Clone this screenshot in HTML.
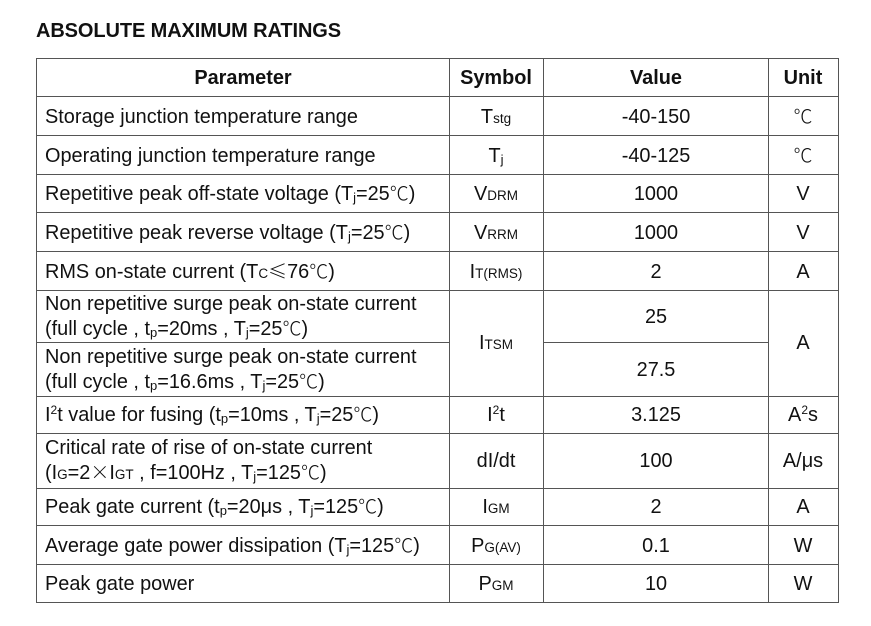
<!DOCTYPE html><html><head><style>
body{margin:0;width:871px;height:626px;background:#fff;position:relative;font-family:"Liberation Sans",Arial,sans-serif;color:#111;overflow:hidden}
.t{position:absolute;left:36px;top:20px;font-weight:bold;font-size:20px;letter-spacing:-0.1px}
.h{position:absolute;background:#555;height:1px}
.v{position:absolute;background:#555;width:1px}
.c{position:absolute;font-size:19.9px;white-space:nowrap;line-height:25px}
.m{text-align:center;transform:translateX(-50%)}
sub{font-size:13px;vertical-align:-2px;line-height:0}
.s{font-size:13.5px}
sup{font-size:12px;vertical-align:7px;line-height:0}
.d{font-family:"Noto Sans CJK SC",sans-serif;font-weight:300;font-size:19px;line-height:0;vertical-align:0}
b{font-weight:bold}
</style></head><body>
<div class="t">ABSOLUTE MAXIMUM RATINGS</div>
<div class="h" style="left:36px;width:803px;top:58px"></div>
<div class="h" style="left:36px;width:803px;top:96px"></div>
<div class="h" style="left:36px;width:803px;top:135px"></div>
<div class="h" style="left:36px;width:803px;top:174px"></div>
<div class="h" style="left:36px;width:803px;top:212px"></div>
<div class="h" style="left:36px;width:803px;top:251px"></div>
<div class="h" style="left:36px;width:803px;top:290px"></div>
<div class="h" style="left:36px;width:413px;top:342px"></div>
<div class="h" style="left:543px;width:225px;top:342px"></div>
<div class="h" style="left:36px;width:803px;top:396px"></div>
<div class="h" style="left:36px;width:803px;top:433px"></div>
<div class="h" style="left:36px;width:803px;top:488px"></div>
<div class="h" style="left:36px;width:803px;top:525px"></div>
<div class="h" style="left:36px;width:803px;top:564px"></div>
<div class="h" style="left:36px;width:803px;top:602px"></div>
<div class="v" style="left:36px;top:58px;height:545px"></div>
<div class="v" style="left:449px;top:58px;height:545px"></div>
<div class="v" style="left:543px;top:58px;height:545px"></div>
<div class="v" style="left:768px;top:58px;height:545px"></div>
<div class="v" style="left:838px;top:58px;height:545px"></div>

<div class="c m" style="left:243px;top:66px"><b>Parameter</b></div>
<div class="c m" style="left:496px;top:66px"><b>Symbol</b></div>
<div class="c m" style="left:656px;top:66px"><b>Value</b></div>
<div class="c m" style="left:803px;top:66px"><b>Unit</b></div>

<div class="c" style="left:45px;top:105px">Storage junction temperature range</div>
<div class="c m" style="left:496px;top:105px">T<span class="s">stg</span></div>
<div class="c m" style="left:656px;top:105px">-40-150</div>
<div class="c m" style="left:803px;top:105px"><span class="d">℃</span></div>

<div class="c" style="left:45px;top:144px">Operating junction temperature range</div>
<div class="c m" style="left:496px;top:144px">T<sub>j</sub></div>
<div class="c m" style="left:656px;top:144px">-40-125</div>
<div class="c m" style="left:803px;top:144px"><span class="d">℃</span></div>

<div class="c" style="left:45px;top:182px">Repetitive peak off-state voltage (T<sub>j</sub>=25<span class="d">℃</span>)</div>
<div class="c m" style="left:496px;top:182px">V<span class="s">DRM</span></div>
<div class="c m" style="left:656px;top:182px">1000</div>
<div class="c m" style="left:803px;top:182px">V</div>

<div class="c" style="left:45px;top:221px">Repetitive peak reverse voltage (T<sub>j</sub>=25<span class="d">℃</span>)</div>
<div class="c m" style="left:496px;top:221px">V<span class="s">RRM</span></div>
<div class="c m" style="left:656px;top:221px">1000</div>
<div class="c m" style="left:803px;top:221px">V</div>

<div class="c" style="left:45px;top:260px">RMS on-state current (T<span class="s">C</span><span class="d">≤</span>76<span class="d">℃</span>)</div>
<div class="c m" style="left:496px;top:260px">I<span class="s">T(RMS)</span></div>
<div class="c m" style="left:656px;top:260px">2</div>
<div class="c m" style="left:803px;top:260px">A</div>

<div class="c" style="left:45px;top:292px">Non repetitive surge peak on-state current<br>(full cycle , t<sub>p</sub>=20ms , T<sub>j</sub>=25<span class="d">℃</span>)</div>
<div class="c" style="left:45px;top:345px">Non repetitive surge peak on-state current<br>(full cycle , t<sub>p</sub>=16.6ms , T<sub>j</sub>=25<span class="d">℃</span>)</div>
<div class="c m" style="left:496px;top:331px">I<span class="s">TSM</span></div>
<div class="c m" style="left:656px;top:305px">25</div>
<div class="c m" style="left:656px;top:358px">27.5</div>
<div class="c m" style="left:803px;top:331px">A</div>

<div class="c" style="left:45px;top:403px">I<sup>2</sup>t value for fusing (t<sub>p</sub>=10ms , T<sub>j</sub>=25<span class="d">℃</span>)</div>
<div class="c m" style="left:496px;top:403px">I<sup>2</sup>t</div>
<div class="c m" style="left:656px;top:403px">3.125</div>
<div class="c m" style="left:803px;top:403px">A<sup>2</sup>s</div>

<div class="c" style="left:45px;top:436px">Critical rate of rise of on-state current<br>(I<span class="s">G</span>=2<span class="d">×</span>I<span class="s">GT</span> , f=100Hz , T<sub>j</sub>=125<span class="d">℃</span>)</div>
<div class="c m" style="left:496px;top:449px">dI/dt</div>
<div class="c m" style="left:656px;top:449px">100</div>
<div class="c m" style="left:803px;top:449px">A/μs</div>

<div class="c" style="left:45px;top:495px">Peak gate current (t<sub>p</sub>=20μs , T<sub>j</sub>=125<span class="d">℃</span>)</div>
<div class="c m" style="left:496px;top:495px">I<span class="s">GM</span></div>
<div class="c m" style="left:656px;top:495px">2</div>
<div class="c m" style="left:803px;top:495px">A</div>

<div class="c" style="left:45px;top:534px">Average gate power dissipation (T<sub>j</sub>=125<span class="d">℃</span>)</div>
<div class="c m" style="left:496px;top:534px">P<span class="s">G(AV)</span></div>
<div class="c m" style="left:656px;top:534px">0.1</div>
<div class="c m" style="left:803px;top:534px">W</div>

<div class="c" style="left:45px;top:572px">Peak gate power</div>
<div class="c m" style="left:496px;top:572px">P<span class="s">GM</span></div>
<div class="c m" style="left:656px;top:572px">10</div>
<div class="c m" style="left:803px;top:572px">W</div>
</body></html>
